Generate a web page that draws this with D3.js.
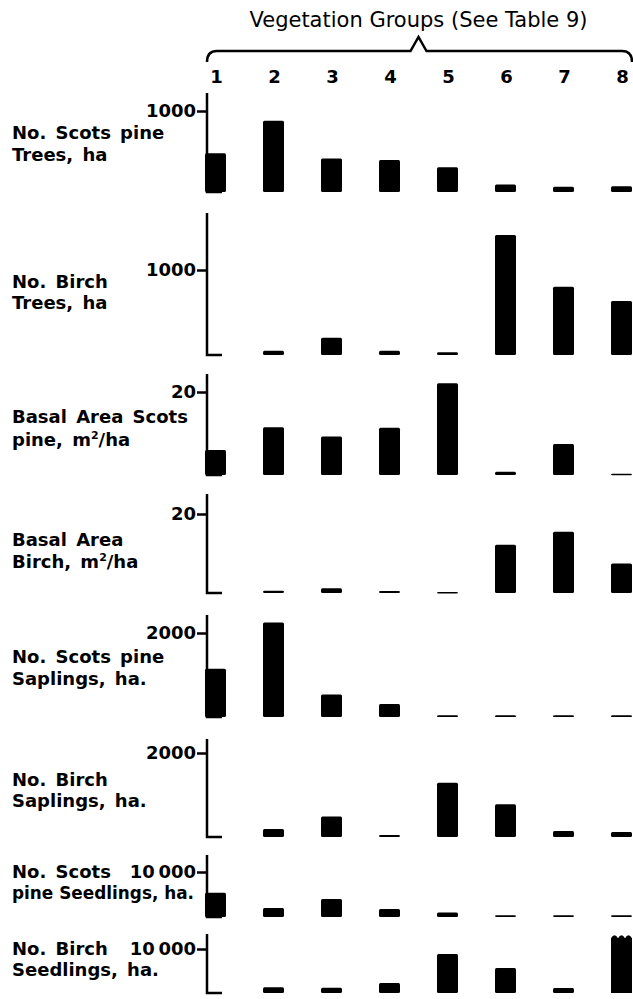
<!DOCTYPE html>
<html>
<head>
<meta charset="utf-8">
<script src="https://cdn.jsdelivr.net/npm/d3@7"></script>
<style>
  body { margin: 0; background: #fff; }
  text { font-family: "DejaVu Sans", sans-serif; fill: #000; }
</style>
</head>
<body>
<svg id="chart" width="633" height="999"></svg>
<script>
// vegetation groups and the eight measured series (one per panel)
const groups = ["1", "2", "3", "4", "5", "6", "7", "8"];
const pineTrees      = [477, 881, 413, 396, 306, 94, 64, 72];
const birchTrees     = [0, 51, 204, 51, 31, 1412, 804, 635];
const basalPine      = [6.0, 11.5, 9.3, 11.4, 22.1, 0.8, 7.5, 0.3];
const basalBirch     = [0, 0.6, 1.2, 0.5, 0.25, 12.2, 15.5, 7.5];
const pineSaplings   = [1150, 2249, 536, 309, 40, 40, 40, 40];
const birchSaplings  = [0, 190, 490, 45, 1290, 780, 140, 120];
const pineSeedlings  = [5400, 2000, 4000, 1800, 1000, 400, 400, 400];
const birchSeedlings = [0, 1300, 1200, 2270, 8860, 5680, 1140, 13100];
const tickValues = [1000, 1000, 20, 20, 2000, 2000, 10000, 10000];
const tickLabels = ["1000", "1000", "20", "20", "2000", "2000", "10\u2009000", "10\u2009000"];
const panelLabels = [
  ["No. Scots pine", "Trees, ha"],
  ["No. Birch", "Trees, ha"],
  ["Basal Area Scots", "pine, m²/ha"],
  ["Basal Area", "Birch, m²/ha"],
  ["No. Scots pine", "Saplings, ha."],
  ["No. Birch", "Saplings, ha."],
  ["No. Scots", "pine Seedlings, ha."],
  ["No. Birch", "Seedlings, ha."]
];
const title = "Vegetation Groups (See Table 9)";
const series = [pineTrees, birchTrees, basalPine, basalBirch,
                pineSaplings, birchSaplings, pineSeedlings, birchSeedlings];
// bars drawn with a broken (wavy) top: [panel, group]
const brokenTop = [[7, 7]];

// layout of each panel: baseline, tick position, top of axis, label lines
const layout = [
  {base: 192, tick: 111, top: 93,  lab: [133, 155]},
  {base: 355, tick: 270, top: 213, lab: [282, 303]},
  {base: 475, tick: 392, top: 374, lab: [417, 440]},
  {base: 593, tick: 514, top: 494, lab: [540, 562]},
  {base: 717, tick: 633, top: 615, lab: [657, 679]},
  {base: 837, tick: 753, top: 739, lab: [780, 801]},
  {base: 917, tick: 872, top: 855, lab: [872, 893]},
  {base: 993, tick: 949, top: 934, lab: [949, 970]}
];

const svg = d3.select("#chart");
const fs = 18;

const x = d3.scaleBand().domain(groups).range([205, 632])
  .paddingInner(0.638).paddingOuter(0);
const axisX = x(groups[0]) + 2;

// title and brace
const left = x(groups[0]), right = x(groups[groups.length - 1]) + x.bandwidth();
const mid = (left + right) / 2;
svg.append("text")
  .attr("x", mid).attr("y", 20).attr("dy", "0.35em")
  .attr("text-anchor", "middle").attr("font-size", 21)
  .text(title);

svg.append("path")
  .attr("d", `M${left + 2},62 Q${left + 2},51 ${left + 12},51 L${mid - 8},51 L${mid},37 L${mid + 8},51 L${right - 10},51 Q${right},51 ${right},62`)
  .attr("fill", "none").attr("stroke", "#000").attr("stroke-width", 2.5);

svg.selectAll(".grp").data(groups).join("text")
  .attr("class", "grp")
  .attr("x", d => x(d) + x.bandwidth() / 2 + 1)
  .attr("y", 77).attr("dy", "0.35em")
  .attr("text-anchor", "middle").attr("font-size", fs).attr("font-weight", "bold")
  .text(d => d);

series.forEach((vals, p) => {
  const L = layout[p];
  const y = d3.scaleLinear().domain([0, tickValues[p]]).range([L.base, L.tick]);
  const g = svg.append("g");

  // left labels
  panelLabels[p].forEach((line, i) => {
    const t = g.append("text")
      .attr("x", 12).attr("y", L.lab[i]).attr("dy", "0.35em")
      .attr("font-size", fs).attr("font-weight", "bold")
      .attr("word-spacing", 3);
    if (line.includes("²")) {
      const parts = line.split("²");
      t.append("tspan").text(parts[0]);
      t.append("tspan").attr("font-size", 11).attr("dy", -7).text("2");
      t.append("tspan").attr("dy", 7).text(parts[1]);
    } else {
      t.text(line);
    }
    // keep long lines clear of the tick label / axis
    const maxW = 182;
    if (t.node().getComputedTextLength() > maxW) {
      t.attr("word-spacing", 0);
      if (t.node().getComputedTextLength() > maxW) {
        t.attr("textLength", maxW).attr("lengthAdjust", "spacingAndGlyphs");
      }
    }
  });

  // axis line with foot, and the single tick
  g.append("path")
    .attr("d", `M${axisX},${L.top} V${L.base} H${axisX + 15}`)
    .attr("fill", "none").attr("stroke", "#000").attr("stroke-width", 2.5);
  const ax = g.append("g").attr("transform", `translate(${axisX},0)`)
    .call(d3.axisLeft(y).tickValues([tickValues[p]]).tickFormat(() => tickLabels[p])
      .tickSize(10).tickPadding(1));
  ax.select(".domain").remove();
  ax.selectAll("line").attr("stroke", "#000").attr("stroke-width", 2.5);
  ax.selectAll("text").attr("font-size", fs).attr("font-weight", "bold")
    .attr("font-family", "DejaVu Sans, sans-serif").attr("fill", "#000");

  // bars
  groups.forEach((grp, i) => {
    const v = vals[i];
    if (v <= 0) return;
    const x0 = x(grp), w = x.bandwidth();
    const top = y(v), base = L.base;
    if (brokenTop.some(b => b[0] === p && b[1] === i)) {
      let d = `M${x0},${base} V${top + 3}`;
      for (let k = 0; k < 3; k++) {
        d += ` Q${x0 + w * (k + 0.5) / 3},${top - 3} ${x0 + w * (k + 1) / 3},${top + 3}`;
      }
      d += ` V${base} Z`;
      g.append("path").attr("d", d).attr("fill", "#000");
    } else {
      g.append("rect")
        .attr("x", x0).attr("y", top)
        .attr("width", w).attr("height", Math.max(base - top, 1.5))
        .attr("rx", 1.5).attr("fill", "#000");
    }
  });
});
</script>
</body>
</html>
